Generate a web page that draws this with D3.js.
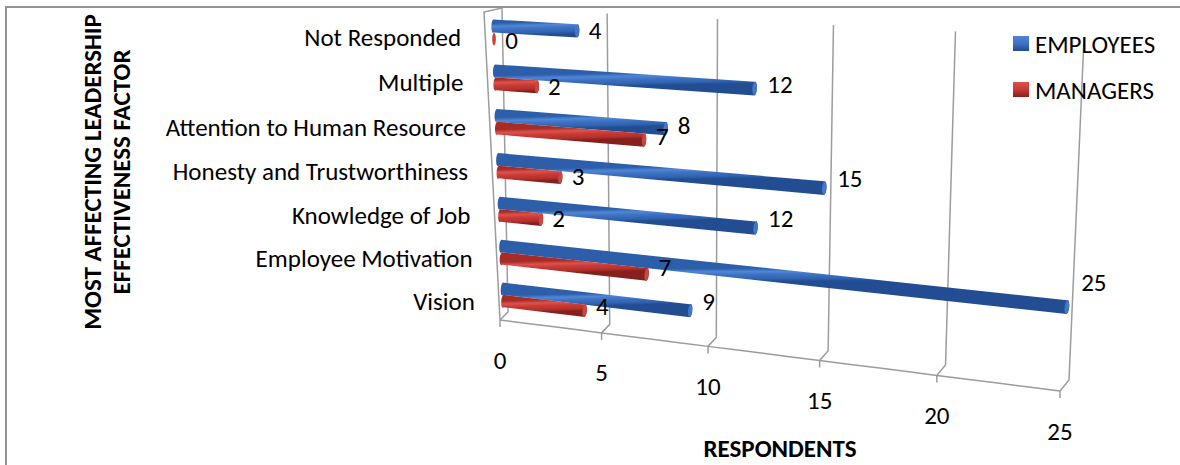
<!DOCTYPE html>
<html>
<head>
<meta charset="utf-8">
<script src="https://cdn.jsdelivr.net/npm/d3@7"></script>
<style>
  html, body { margin: 0; padding: 0; background: #fff; }
  svg text { font-family: Carlito, Calibri, Lato, "Open Sans", sans-serif; fill: #000; }
</style>
</head>
<body>
<svg id="chart" width="1180" height="465"></svg>
<script>
// ---- data ----
const categories = ["Not Responded", "Multiple", "Attention to Human Resource", "Honesty and Trustworthiness",
                    "Knowledge of Job", "Employee Motivation", "Vision"];
const seriesNames = ["EMPLOYEES", "MANAGERS"];
const employees = [4, 12, 8, 15, 12, 25, 9];
const managers = [0, 2, 7, 3, 2, 7, 4];
const valueTicks = [0, 5, 10, 15, 20, 25];
const xTitle = "RESPONDENTS";
const yTitle = ["MOST AFFECTING LEADERSHIP", "EFFECTIVENESS FACTOR"];

const seriesValues = [employees, managers];
const fontSize = 25;

const svg = d3.select("#chart");
const defs = svg.append("defs");

// ---- 3D perspective box ----
// maps the unit square (u across the value range, w down the category range) onto a screen quadrilateral
function quadMap(p0, p1, p2, p3) {
  const dx1 = p1[0] - p2[0], dx2 = p3[0] - p2[0], dx3 = p0[0] - p1[0] + p2[0] - p3[0];
  const dy1 = p1[1] - p2[1], dy2 = p3[1] - p2[1], dy3 = p0[1] - p1[1] + p2[1] - p3[1];
  const den = dx1 * dy2 - dx2 * dy1;
  const g = (dx3 * dy2 - dx2 * dy3) / den, h = (dx1 * dy3 - dx3 * dy1) / den;
  const a = p1[0] - p0[0] + g * p1[0], b = p3[0] - p0[0] + h * p3[0], c = p0[0];
  const d = p1[1] - p0[1] + g * p1[1], e = p3[1] - p0[1] + h * p3[1], f = p0[1];
  return (u, w) => { const z = g * u + h * w + 1; return [(a * u + b * w + c) / z, (d * u + e * w + f) / z]; };
}
// back wall plane and front plane of the chart box
const back = quadMap([502, 8], [1084, 38], [1069, 380], [508, 312]);
const front = quadMap([484, 12], [1066, 45], [1060, 391], [500, 320]);
// depth 0 = back wall, 1 = front edge
function project(u, w, depth) {
  const b = back(u, w), f = front(u, w);
  return [b[0] + (f[0] - b[0]) * depth, b[1] + (f[1] - b[1]) * depth];
}

const x = d3.scaleLinear().domain([0, 25]).range([0, 1]);
const y = d3.scaleBand().domain(categories).range([0, 1]).paddingInner(0.42).paddingOuter(0.21);
const ys = d3.scaleBand().domain(seriesNames).range([0, y.bandwidth()]);

const gridColor = "#9c9c9c";

// outer frame
svg.append("path")
  .attr("d", "M6,466 L6,7 L1181,7")
  .attr("fill", "none").attr("stroke", "#939393").attr("stroke-width", 2);

// ---- walls, gridlines and value axis ----
const walls = svg.append("g").attr("fill", "none").attr("stroke", gridColor).attr("stroke-width", 1.5);
const line = d3.line();

// left side wall
walls.append("path").attr("d", line([project(0, 0, 0), project(0, 0, 1), project(0, 1, 1)]));

valueTicks.forEach(t => {
  const u = x(t);
  // back wall gridline bending forward across the floor, then the tick mark
  const fb = project(u, 1, 1);
  walls.append("path").attr("d", line([project(u, 0, 0), project(u, 1, 0), fb]));
  walls.append("path").attr("d", line([fb, [fb[0], fb[1] + 7]]));
});
// front edge of the floor: the value axis line
walls.append("path").attr("d", line(d3.range(0, 1.0001, 0.05).map(u => project(u, 1, 1))));

// value tick labels
svg.append("g").selectAll("text").data(valueTicks).join("text")
  .attr("x", t => project(x(t), 1, 1)[0])
  .attr("y", t => project(x(t), 1, 1)[1] + 40)
  .attr("text-anchor", "middle").attr("dominant-baseline", "central")
  .attr("font-size", fontSize)
  .text(t => t);

// ---- cylinders ----
const palettes = {
  EMPLOYEES: { body: ["#2c5ea9", "#4f86d5", "#3e71c2", "#3063b0", "#224d92"], cap: ["#4478c6", "#2a5aa2"] },
  MANAGERS:  { body: ["#a72c27", "#dc524c", "#c93a35", "#b5312c", "#86201d"], cap: ["#cc4641", "#9a2622"] }
};
const stopOffsets = [0, 0.25, 0.5, 0.8, 1];

const bars = [];
seriesNames.forEach((s, si) => {
  categories.forEach((c, ci) => {
    bars.push({ series: s, category: c, ci, value: seriesValues[si][ci] });
  });
});

const barLayer = svg.append("g");
const labelLayer = svg.append("g");

bars.forEach((bar, i) => {
  const wc = y(bar.category) + ys(bar.series) + ys.bandwidth() / 2;
  const r = ys.bandwidth() / 2;
  const u = x(bar.value);
  const s0 = project(0, wc, 0.5), s1 = project(u, wc, 0.5);
  const t0 = project(0, wc - r, 0.5), b0 = project(0, wc + r, 0.5);
  const t1 = project(u, wc - r, 0.5), b1 = project(u, wc + r, 0.5);
  const ht = Math.hypot(t1[0] - b1[0], t1[1] - b1[1]) / 2;
  const ht0 = Math.hypot(t0[0] - b0[0], t0[1] - b0[1]) / 2;
  const rx = ht * 0.32, rx0 = ht0 * 0.32;
  const ang = u > 0 ? Math.atan2(s1[1] - s0[1], s1[0] - s0[0]) * 180 / Math.PI : 0;
  const pal = palettes[bar.series];

  // shading across the cylinder, taken at its middle
  const tm = project(u / 2, wc - r, 0.5), bm = project(u / 2, wc + r, 0.5);
  const gid = "cyl" + i;
  const grad = defs.append("linearGradient").attr("id", gid).attr("gradientUnits", "userSpaceOnUse")
    .attr("x1", tm[0]).attr("y1", tm[1]).attr("x2", bm[0]).attr("y2", bm[1]);
  stopOffsets.forEach((o, k) => grad.append("stop").attr("offset", o).attr("stop-color", pal.body[k]));
  const cid = "cap" + i;
  const cgrad = defs.append("linearGradient").attr("id", cid).attr("gradientUnits", "userSpaceOnUse")
    .attr("x1", t1[0]).attr("y1", t1[1]).attr("x2", b1[0]).attr("y2", b1[1]);
  cgrad.append("stop").attr("offset", 0).attr("stop-color", pal.cap[0]);
  cgrad.append("stop").attr("offset", 1).attr("stop-color", pal.cap[1]);

  if (u > 0) {
    const d = `M${t0[0]},${t0[1]} L${t1[0]},${t1[1]} A${rx},${ht} ${ang} 0 1 ${b1[0]},${b1[1]} ` +
              `L${b0[0]},${b0[1]} A${rx0},${ht0} ${ang} 0 1 ${t0[0]},${t0[1]} Z`;
    barLayer.append("path").attr("d", d).attr("fill", `url(#${gid})`);
  }
  barLayer.append("ellipse")
    .attr("cx", 0).attr("cy", 0).attr("rx", u > 0 ? rx : rx * 0.9).attr("ry", ht * 0.96)
    .attr("transform", `translate(${s1[0]},${s1[1]}) rotate(${ang})`)
    .attr("fill", `url(#${cid})`);

  // value label placed just past the cylinder end
  const lx = s1[0] + rx + 9 + 3 * u;
  const ly = s1[1] + 1 - u * (5 + 27 * wc);
  labelLayer.append("text")
    .attr("x", lx).attr("y", ly)
    .attr("dominant-baseline", "central")
    .attr("font-size", fontSize)
    .text(bar.value);
});

// ---- category labels ----
svg.append("g").selectAll("text").data(categories).join("text")
  .attr("x", c => project(0, y(c) + y.bandwidth() / 2, 1)[0] - 24)
  .attr("y", c => project(0, y(c) + y.bandwidth() / 2, 1)[1] + 3)
  .attr("text-anchor", "end").attr("dominant-baseline", "central")
  .attr("font-size", fontSize)
  .text(c => c);

// ---- axis titles ----
svg.append("text")
  .attr("x", 780).attr("y", 448)
  .attr("text-anchor", "middle").attr("dominant-baseline", "central")
  .attr("font-size", fontSize).attr("font-weight", "bold")
  .text(xTitle);

svg.append("g").attr("transform", "translate(107,172) rotate(-90)")
  .selectAll("text").data(yTitle).join("text")
  .attr("x", 0).attr("y", (d, i) => (i - 0.5) * 29)
  .attr("text-anchor", "middle").attr("dominant-baseline", "central")
  .attr("font-size", fontSize).attr("font-weight", "bold")
  .text(d => d);

// ---- legend ----
const legend = svg.append("g").attr("transform", "translate(1013,36)");
const legendRow = legend.selectAll("g").data(seriesNames).join("g")
  .attr("transform", (d, i) => `translate(0,${i * 46})`);
seriesNames.forEach((s, i) => {
  const lg = defs.append("linearGradient").attr("id", "key" + i).attr("x1", 0).attr("y1", 0).attr("x2", 0).attr("y2", 1);
  const p = palettes[s].body;
  lg.append("stop").attr("offset", 0).attr("stop-color", p[1]);
  lg.append("stop").attr("offset", 0.5).attr("stop-color", p[2]);
  lg.append("stop").attr("offset", 1).attr("stop-color", p[4]);
});
legendRow.append("rect")
  .attr("width", 16).attr("height", 15)
  .attr("fill", (d, i) => `url(#key${i})`);
legendRow.append("text")
  .attr("x", 22).attr("y", 8)
  .attr("dominant-baseline", "central")
  .attr("font-size", fontSize)
  .text(d => d);
</script>
</body>
</html>
